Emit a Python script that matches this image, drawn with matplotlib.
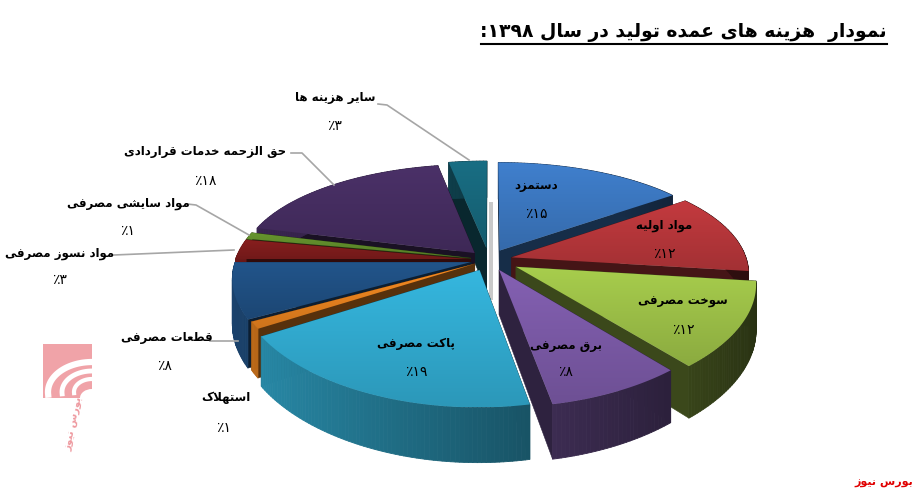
import re
import numpy as np
import matplotlib
matplotlib.use('Agg')
import matplotlib.pyplot as plt
from matplotlib.collections import PolyCollection
from matplotlib.patches import Polygon, Rectangle, Ellipse

plt.rcParams['font.family'] = ['DejaVu Sans']

# data
names = ['دستمزد', 'مواد اولیه', 'سوخت مصرفی', 'برق مصرفی', 'پاکت مصرفی', 'استهلاک',
         'قطعات مصرفی', 'مواد نسوز مصرفی', 'مواد سایشی مصرفی', 'حق الزحمه خدمات قراردادی',
         'سایر هزینه ها']
values = [15, 12, 12, 8, 19, 1, 8, 3, 1, 18, 3]
title = 'نمودار  هزینه های عمده تولید در سال ۱۳۹۸:'
source = 'بورس نیوز'

# styles
colors = ['#3B76BE', '#B5363A', '#9BBE47', '#7A59A5', '#31A9CE', '#E5811F',
          '#1F4E80', '#7E1C1C', '#5F8A2B', '#452D60', '#17667A']
explode = [0.10, 0.10, 0.13, 0.10, 0.10, 0.07, 0.08, 0.08, 0.08, 0.09, 0.11]
name_pos = [(536, 186), (664, 226), (683, 301), (566, 345), (416, 344), (226, 398),
            (167, 337), (60, 254), (128, 203), (205, 151), (335, 97)]
pct_pos = [(536, 214), (664, 254), (683, 330), (566, 372), (416, 372), (224, 428),
           (165, 366), (60, 280), (128, 231), (205, 181), (335, 126)]
leaders = [[(378, 104), (387, 105), (469, 160)],
           [(291, 153), (302, 153), (334, 185)],
           [(187, 204), (196, 205), (249, 235)],
           [(114, 255), (234, 250)],
           [(210, 341), (238, 341)]]

CX, CY = 489, 260
A, B, K, KX, H = 235, 107.6, 0.186, 0.14, 44


# matplotlib does not shape arabic text, so pick presentation forms by hand
FOUR = {'ب': 0xFE8F, 'ت': 0xFE95, 'ح': 0xFEA1, 'خ': 0xFEA5, 'س': 0xFEB1, 'ش': 0xFEB5,
        'ص': 0xFEB9, 'ط': 0xFEC1, 'ع': 0xFEC9, 'ف': 0xFED1, 'ق': 0xFED5, 'ل': 0xFEDD,
        'م': 0xFEE1, 'ن': 0xFEE5, 'ه': 0xFEE9, 'پ': 0xFB56, 'ک': 0xFB8E, 'ی': 0xFBFC}
TWO = {'ا': 0xFE8D, 'د': 0xFEA9, 'ر': 0xFEAD, 'ز': 0xFEAF, 'و': 0xFEED}


def shape(text):
    out = []
    i = 0
    while i < len(text):
        ch = text[i]
        if ch not in FOUR and ch not in TWO:
            out.append(ch)
            i += 1
            continue
        joins_prev = i > 0 and text[i - 1] in FOUR
        if ch == 'ل' and text[i + 1:i + 2] == 'ا':
            out.append(chr(0xFEFC if joins_prev else 0xFEFB))
            i += 2
            continue
        nxt = text[i + 1:i + 2]
        joins_next = ch in FOUR and (nxt in FOUR or nxt in TWO) and nxt != ''
        if ch in TWO:
            out.append(chr(TWO[ch] + (1 if joins_prev else 0)))
        else:
            form = {(False, False): 0, (True, False): 1, (False, True): 2, (True, True): 3}
            out.append(chr(FOUR[ch] + form[(joins_prev, joins_next)]))
        i += 1
    visual = ''.join(out)[::-1]
    return re.sub('[۰-۹]+', lambda m: m.group(0)[::-1], visual)


def fa_pct(v):
    return '٪' + ''.join(chr(0x06F0 + int(d)) for d in str(v))


def project(x, y, z):
    return (CX + A * x / (1 + KX * y),
            CY - B * y / (1 + K * y) + H * (1 - z) / (1 + K * y))


def shade(c, f):
    return tuple(np.clip(np.array(matplotlib.colors.to_rgb(c)) * f, 0, 1))


fig = plt.figure(figsize=(9.17, 4.95), dpi=100)
ax = fig.add_axes([0, 0, 1, 1])
ax.set_xlim(0, 917)
ax.set_ylim(495, 0)
ax.axis('off')

# gray sliver seen in the gap behind the blue slice
ax.add_patch(Rectangle((489, 202), 4, 98, fc='#C9C9C9', ec='none', zorder=1))

# slice angles, clockwise from 12 o'clock
edges = np.cumsum([0] + values) / sum(values) * 2 * np.pi
mids = (edges[:-1] + edges[1:]) / 2

# back to front so nearer slices cover the others
order = sorted(range(len(values)), key=lambda n: -np.cos(mids[n]))
z = 2
for n in order:
    t = np.linspace(edges[n], edges[n + 1], max(values[n] * 4, 6))
    ox = explode[n] * np.sin(mids[n])
    oy = explode[n] * np.cos(mids[n])
    rx = ox + np.sin(t)
    ry = oy + np.cos(t)
    c = colors[n]

    # cut faces
    for tx, ty in ((rx[0], ry[0]), (rx[-1], ry[-1])):
        quad = [project(ox, oy, 1), project(tx, ty, 1), project(tx, ty, 0), project(ox, oy, 0)]
        ax.add_patch(Polygon(quad, closed=True, fc=shade(c, 0.38), ec=shade(c, 0.38), lw=0.4, zorder=z))
    z += 1

    # rim
    quads = []
    rim_cols = []
    for i in range(len(t) - 1):
        quads.append([project(rx[i], ry[i], 1), project(rx[i + 1], ry[i + 1], 1),
                      project(rx[i + 1], ry[i + 1], 0), project(rx[i], ry[i], 0)])
        rim_cols.append(shade(c, 0.55 - 0.3 * np.sin((t[i] + t[i + 1]) / 2)))
    ax.add_collection(PolyCollection(quads, facecolors=rim_cols, edgecolors=rim_cols, linewidths=0.6, zorder=z))
    z += 1

    # top face with a soft vertical gradient
    pts = [project(ox, oy, 1)] + [project(a, b, 1) for a, b in zip(rx, ry)]
    poly = np.array(pts)
    grad = np.linspace(1.08, 0.9, 32)[:, None, None] * np.array(matplotlib.colors.to_rgb(c))[None, None, :]
    im = ax.imshow(np.clip(grad, 0, 1), extent=(poly[:, 0].min(), poly[:, 0].max(), poly[:, 1].max(), poly[:, 1].min()),
                   aspect='auto', zorder=z, interpolation='bilinear')
    im.set_clip_path(Polygon(poly, closed=True, transform=ax.transData))
    z += 1

ax.set_xlim(0, 917)
ax.set_ylim(495, 0)

for pts in leaders:
    xs, ys = zip(*pts)
    ax.plot(xs, ys, color='#A6A6A6', lw=1.2, zorder=z)
z += 1

for n in range(len(values)):
    ax.text(name_pos[n][0], name_pos[n][1], shape(names[n]), ha='center', va='center',
            fontsize=8.5, fontweight='bold', color='black', zorder=z)
    ax.text(pct_pos[n][0], pct_pos[n][1], fa_pct(values[n]), ha='center', va='center',
            fontsize=10, color='black', zorder=z)

ax.text(887, 32, shape(title), ha='right', va='center', fontsize=13.5, fontweight='bold', color='black')
ax.plot([481, 887], [44, 44], color='black', lw=1.5)
ax.text(913, 483, shape(source), ha='right', va='center', fontsize=8, fontweight='bold', color='#E00000')

# logo
ax.add_patch(Rectangle((43, 344), 49, 54, fc='#F0A3A8', ec='none'))
for rx_, ry_, w in ((44, 30, 4.5), (30, 21, 3.5), (18, 13, 3)):
    th = np.radians(np.linspace(175, 300, 40))
    ax.plot(92 + rx_ * np.cos(th), 392 + ry_ * np.sin(th), color='white', lw=w)
ax.add_patch(Ellipse((92, 398), 24, 18, fc='white', ec='none'))
ax.add_patch(Rectangle((92, 340), 14, 62, fc='white', ec='none'))
ax.text(74, 424, shape(source), rotation=78, ha='center', va='center', fontsize=7.5, fontweight='bold', color='#EE9AA0')

fig.savefig('out.png', dpi=100)
